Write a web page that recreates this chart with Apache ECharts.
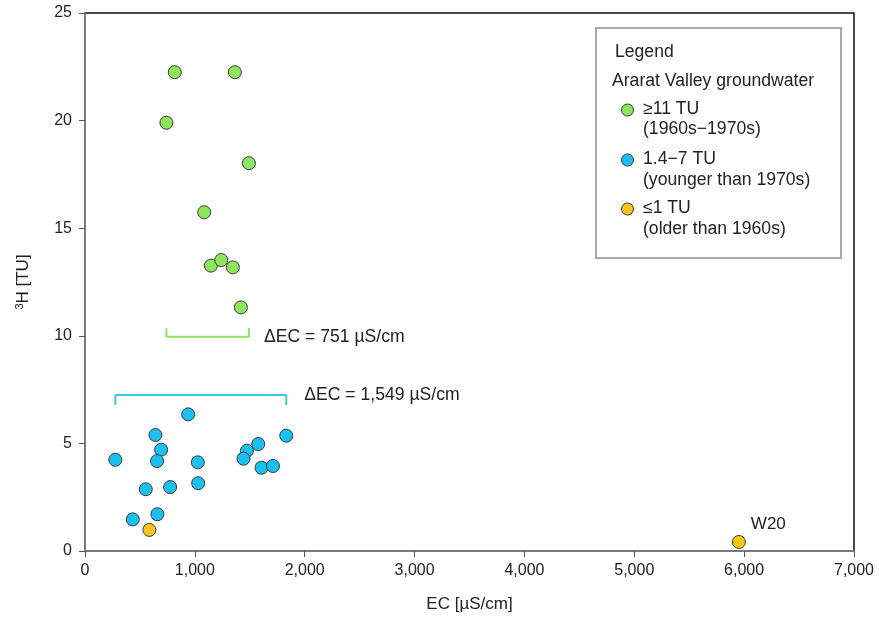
<!DOCTYPE html>
<html>
<head>
<meta charset="utf-8">
<script src="https://cdn.jsdelivr.net/npm/echarts@6/dist/echarts.min.js"></script>
<style>
  html, body { margin: 0; padding: 0; background: #fff; }
  #chart { width: 879px; height: 623px; }
</style>
</head>
<body>
<div id="chart"></div>
<script>
// data ==================================================================
// EC [µS/cm], 3H [TU]
var greenEC = [817, 1364, 741, 1492, 1085, 1146, 1240, 1346, 1419];
var greenTU = [22.25, 22.25, 19.9, 18.02, 15.74, 13.26, 13.52, 13.18, 11.32];

var blueEC = [939, 641, 693, 656, 276, 1027, 1030, 775, 553, 435, 659, 1832, 1577, 1474, 1443, 1607, 1711];
var blueTU = [6.35, 5.39, 4.71, 4.18, 4.24, 4.12, 3.15, 2.97, 2.87, 1.47, 1.71, 5.36, 4.97, 4.66, 4.29, 3.87, 3.95];

var yellowEC = [586, 5952];
var yellowTU = [0.98, 0.42];
var yellowNames = ['', 'W20'];

var xTicks = [0, 1000, 2000, 3000, 4000, 5000, 6000, 7000];
var yTicks = [0, 5, 10, 15, 20, 25];

// bracket heights and labels
var greenBracket = { low: 9.96, high: 10.35, text: 'ΔEC = 751 µS/cm' };
var blueBracket = { low: 6.78, high: 7.25, text: 'ΔEC = 1,549 µS/cm' };

var GREEN = '#8ee65c';
var BLUE = '#1cc0f0';
var YELLOW = '#f6c61c';
var FONT = 'Liberation Sans, Arial, sans-serif';
var TXT = '17.6px ' + FONT;

// helpers ================================================================
function zip(xs, ys) {
    return xs.map(function(x, i) { return [x, ys[i]]; });
}

// bracket opening up (green) or down (blue)
function bracket(xs, yEnd, yBar, text, dist) {
    var lo = Math.min.apply(null, xs);
    var hi = Math.max.apply(null, xs);
    return [
        [lo, yEnd],
        [lo, yBar],
        {
            value: [hi, yBar],
            label: {
                show: true, position: 'right', distance: dist,
                formatter: text, color: '#222', fontSize: 17.6, fontFamily: FONT
            }
        },
        [hi, yEnd]
    ];
}

var pointStyle = function(color) {
    return { color: color, borderColor: '#3a3a3a', borderWidth: 1, opacity: 1 };
};

var chart = echarts.init(document.getElementById('chart'));

var option = {
    backgroundColor: '#fff',
    animation: false,
    grid: {
        left: 85, right: 25, top: 13, bottom: 72,
        show: true, borderColor: '#111', borderWidth: 1.5, backgroundColor: 'transparent'
    },
    xAxis: {
        type: 'value', min: 0, max: 7000, interval: 1000,
        name: 'EC [µS/cm]', nameLocation: 'middle', nameGap: 45,
        nameTextStyle: { fontSize: 17, color: '#222', fontFamily: FONT },
        axisLine: { show: true, lineStyle: { color: '#8a8a8a', width: 1.5 } },
        axisTick: { show: true, length: 6, lineStyle: { color: '#555' } },
        axisLabel: {
            margin: 12, fontSize: 16, color: '#222', fontFamily: FONT,
            formatter: function(v) { return xTicks.indexOf(v) >= 0 ? v.toLocaleString('en-US') : ''; }
        },
        splitLine: { show: false }
    },
    yAxis: {
        type: 'value', min: 0, max: 25, interval: 5,
        name: '{s|3}{n|H [TU]}', nameLocation: 'middle', nameGap: 52,
        nameTextStyle: {
            rich: {
                s: { fontSize: 11, color: '#222', fontFamily: FONT, verticalAlign: 'top', padding: [0, 0, 8, 0] },
                n: { fontSize: 17, color: '#222', fontFamily: FONT }
            }
        },
        axisLine: { show: true, lineStyle: { color: '#8a8a8a', width: 1.5 } },
        axisTick: { show: true, length: 6, lineStyle: { color: '#555' } },
        axisLabel: {
            margin: 13, fontSize: 16, color: '#222', fontFamily: FONT,
            formatter: function(v) { return yTicks.indexOf(v) >= 0 ? String(v) : ''; }
        },
        splitLine: { show: false }
    },
    series: [
        {
            name: 'bracket green', type: 'line', silent: true,
            symbol: 'circle', symbolSize: 0, showSymbol: true,
            lineStyle: { color: GREEN, width: 2 },
            itemStyle: { color: GREEN },
            data: bracket(greenEC, greenBracket.high, greenBracket.low, greenBracket.text, 15),
            z: 1
        },
        {
            name: 'bracket blue', type: 'line', silent: true,
            symbol: 'circle', symbolSize: 0, showSymbol: true,
            lineStyle: { color: '#3cc8e6', width: 2 },
            itemStyle: { color: '#3cc8e6' },
            data: bracket(blueEC, blueBracket.low, blueBracket.high, blueBracket.text, 18),
            z: 1
        },
        {
            name: '≥11 TU', type: 'scatter', symbolSize: 13,
            itemStyle: pointStyle(GREEN),
            data: zip(greenEC, greenTU), z: 3
        },
        {
            name: '1.4−7 TU', type: 'scatter', symbolSize: 13,
            itemStyle: pointStyle(BLUE),
            data: zip(blueEC, blueTU), z: 3
        },
        {
            name: '≤1 TU', type: 'scatter', symbolSize: 13,
            itemStyle: pointStyle(YELLOW),
            data: yellowEC.map(function(x, i) {
                return {
                    value: [x, yellowTU[i]],
                    label: {
                        show: yellowNames[i] !== '', formatter: yellowNames[i],
                        position: 'right', offset: [0, -18],
                        fontSize: 17, color: '#222', fontFamily: FONT
                    }
                };
            }),
            z: 3
        }
    ],
    // legend box drawn by hand to keep the two-line entries
    graphic: [
        {
            type: 'rect', left: 595, top: 27,
            shape: { width: 245, height: 230 },
            style: { fill: '#fff', stroke: '#a9a9a9', lineWidth: 2 }, z: 10
        },
        { type: 'text', left: 615, top: 43, style: { text: 'Legend', fill: '#222', font: TXT }, z: 11 },
        { type: 'text', left: 612, top: 72, style: { text: 'Ararat Valley groundwater', fill: '#222', font: TXT }, z: 11 },

        { type: 'circle', shape: { cx: 627.5, cy: 110, r: 6 }, style: { fill: GREEN, stroke: '#3a3a3a', lineWidth: 1 }, z: 11 },
        { type: 'text', left: 643, top: 100, style: { text: '≥11 TU', fill: '#222', font: TXT }, z: 11 },
        { type: 'text', left: 643, top: 120, style: { text: '(1960s−1970s)', fill: '#222', font: TXT }, z: 11 },

        { type: 'circle', shape: { cx: 627.5, cy: 160, r: 6 }, style: { fill: BLUE, stroke: '#3a3a3a', lineWidth: 1 }, z: 11 },
        { type: 'text', left: 643, top: 150, style: { text: '1.4−7 TU', fill: '#222', font: TXT }, z: 11 },
        { type: 'text', left: 643, top: 171, style: { text: '(younger than 1970s)', fill: '#222', font: TXT }, z: 11 },

        { type: 'circle', shape: { cx: 627.5, cy: 209, r: 6 }, style: { fill: YELLOW, stroke: '#3a3a3a', lineWidth: 1 }, z: 11 },
        { type: 'text', left: 643, top: 199, style: { text: '≤1 TU', fill: '#222', font: TXT }, z: 11 },
        { type: 'text', left: 643, top: 220, style: { text: '(older than 1960s)', fill: '#222', font: TXT }, z: 11 }
    ]
};

chart.setOption(option);
</script>
</body>
</html>
